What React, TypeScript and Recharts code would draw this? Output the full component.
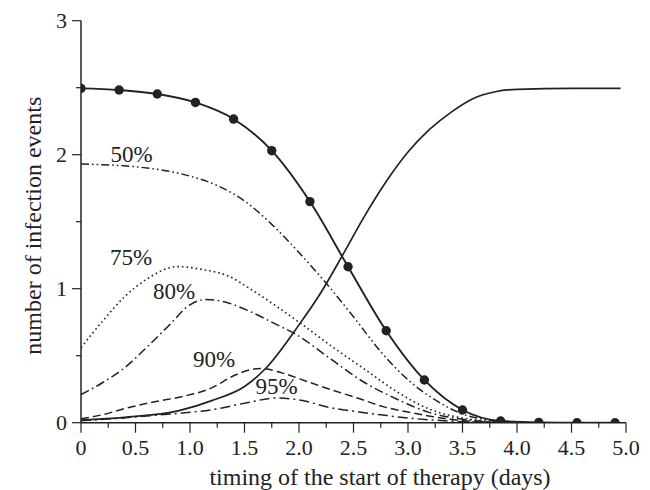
import React from 'react'
import { LineChart, Line, XAxis, YAxis, ReferenceDot } from 'recharts'

// solid curve with markers
const dotX = [0, 0.35, 0.7, 1.05, 1.4, 1.75, 2.1, 2.45, 2.8, 3.15, 3.5, 3.85, 4.2, 4.55, 4.9]
const dotY = [2.495, 2.483, 2.453, 2.39, 2.266, 2.03, 1.65, 1.164, 0.686, 0.319, 0.095, 0.013, 0.002, 0, 0]

// rising solid curve
const riseX = [0, 0.4, 0.9, 1.2, 1.5, 1.7, 2.0, 2.2, 2.4, 2.6, 2.8, 3.0, 3.2, 3.4, 3.6, 3.8, 4.0, 4.5, 4.95]
const riseY = [0.02, 0.04, 0.09, 0.165, 0.27, 0.41, 0.73, 0.97, 1.25, 1.54, 1.8, 2.02, 2.19, 2.32, 2.42, 2.47, 2.488, 2.495, 2.495]

const eff50X = [0, 0.5, 1.0, 1.25, 1.5, 1.75, 2.0, 2.25, 2.5, 2.75, 3.0, 3.25, 3.5, 3.75, 4.0]
const eff50Y = [1.93, 1.91, 1.84, 1.77, 1.655, 1.48, 1.27, 1.04, 0.79, 0.53, 0.32, 0.17, 0.065, 0.02, 0.003]

const eff75X = [0, 0.2, 0.4, 0.6, 0.89, 1.1, 1.35, 1.55, 1.8, 2.0, 2.3, 2.6, 2.9, 3.2, 3.5, 3.8, 4.0]
const eff75Y = [0.56, 0.76, 0.94, 1.07, 1.165, 1.145, 1.095, 1.0, 0.865, 0.75, 0.57, 0.4, 0.23, 0.1, 0.035, 0.008, 0]

const eff80X = [0, 0.2, 0.4, 0.6, 0.8, 1.0, 1.15, 1.3, 1.55, 1.8, 1.95, 2.3, 2.6, 2.9, 3.2, 3.5, 3.8, 4.0]
const eff80Y = [0.21, 0.3, 0.41, 0.56, 0.72, 0.88, 0.92, 0.905, 0.83, 0.73, 0.67, 0.47, 0.3, 0.175, 0.075, 0.025, 0.005, 0]

const eff90X = [0, 0.2, 0.4, 0.7, 0.9, 1.2, 1.4, 1.55, 1.65, 1.85, 2.1, 2.3, 2.55, 2.77, 3.0, 3.23, 3.5, 3.8, 4.0]
const eff90Y = [0.03, 0.06, 0.105, 0.16, 0.19, 0.26, 0.35, 0.395, 0.405, 0.37, 0.3, 0.245, 0.18, 0.12, 0.08, 0.045, 0.015, 0.003, 0]

const eff95X = [0, 0.3, 0.6, 0.9, 1.2, 1.5, 1.8, 2.0, 2.3, 2.55, 2.77, 3.0, 3.23, 3.5, 4.0]
const eff95Y = [0.015, 0.03, 0.05, 0.07, 0.097, 0.145, 0.185, 0.17, 0.11, 0.08, 0.057, 0.035, 0.02, 0.008, 0]

const xTicks = [0, 0.25, 0.5, 0.75, 1, 1.25, 1.5, 1.75, 2, 2.25, 2.5, 2.75, 3, 3.25, 3.5, 3.75, 4, 4.25, 4.5, 4.75, 5]
const yTicks = [0, 0.5, 1, 1.5, 2, 2.5, 3]

const curveLabels = ['50%', '75%', '80%', '90%', '95%']
const curveLabelX = [0.463, 0.459, 0.853, 1.22, 1.795]
const curveLabelY = [2.005, 1.237, 0.987, 0.477, 0.274]

const toPoints = (xs: number[], ys: number[]) => xs.map((x, i) => ({ x, y: ys[i] }))

const INK = '#222'
const FONT = "'Liberation Serif', 'Times New Roman', serif"

const XTick = ({ x, y, payload }: any) => {
  const v = payload.value
  const major = Math.abs(v * 2 - Math.round(v * 2)) < 1e-6
  return (
    <g>
      <line x1={x} x2={x} y1={y} y2={y + (major ? 10 : 5)} stroke={INK} strokeWidth={1.2} />
      {major && (
        <text x={x} y={y + 32} textAnchor="middle" fontSize={22} fontFamily={FONT} fill={INK}>
          {v === 0 ? '0' : v.toFixed(1)}
        </text>
      )}
    </g>
  )
}

const YTick = ({ x, y, payload }: any) => {
  const v = payload.value
  const major = Number.isInteger(v)
  return (
    <g>
      <line x1={x} x2={x - (major ? 9 : 5)} y1={y} y2={y} stroke={INK} strokeWidth={1.2} />
      {major && (
        <text x={x - 14} y={y} dy="0.34em" textAnchor="end" fontSize={22} fontFamily={FONT} fill={INK}>
          {v}
        </text>
      )}
    </g>
  )
}

const XTitle = ({ viewBox }: any) => (
  <text x={viewBox.x + 299} y={viewBox.y + 62} textAnchor="middle" fontSize={24} fontFamily={FONT} fill={INK}>
    timing of the start of therapy (days)
  </text>
)

const YTitle = ({ viewBox }: any) => {
  const cx = viewBox.x + 25
  const cy = viewBox.y + viewBox.height / 2 + 4
  return (
    <text x={cx} y={cy} transform={`rotate(-90 ${cx} ${cy})`} textAnchor="middle" dominantBaseline="central"
      fontSize={24} fontFamily={FONT} fill={INK}>
      number of infection events
    </text>
  )
}

const App = () => {
  const lineProps = { type: 'monotone' as const, dataKey: 'y', stroke: INK, dot: false, isAnimationActive: false }
  return (
    <LineChart width={642} height={482} margin={{ top: 12.7, right: 24, left: 0, bottom: 0 }}>
      <XAxis type="number" dataKey="x" domain={[0, 5]} ticks={xTicks} interval={0} tick={<XTick />}
        tickLine={false} tickSize={0} tickMargin={0} height={67.3} allowDataOverflow
        axisLine={{ stroke: INK, strokeWidth: 1.5 }} label={{ content: <XTitle /> }} />
      <YAxis type="number" domain={[0, 3]} ticks={yTicks} interval={0} tick={<YTick />}
        tickLine={false} tickSize={0} tickMargin={0} width={73} allowDataOverflow
        axisLine={{ stroke: INK, strokeWidth: 1.5 }} label={{ content: <YTitle /> }} />
      <Line {...lineProps} data={toPoints(eff95X, eff95Y)} strokeWidth={1.5} strokeDasharray="10 4 2 4" />
      <Line {...lineProps} data={toPoints(eff90X, eff90Y)} strokeWidth={1.5} strokeDasharray="8 4" />
      <Line {...lineProps} data={toPoints(eff80X, eff80Y)} strokeWidth={1.5} strokeDasharray="9 3.5 1.6 3.5" />
      <Line {...lineProps} data={toPoints(eff75X, eff75Y)} strokeWidth={1.6} strokeDasharray="1.6 3" />
      <Line {...lineProps} data={toPoints(eff50X, eff50Y)} strokeWidth={1.5} strokeDasharray="8 3 1.6 3 1.6 3" />
      <Line {...lineProps} data={toPoints(riseX, riseY)} strokeWidth={1.7} />
      <Line {...lineProps} data={toPoints(dotX, dotY)} strokeWidth={1.9}
        dot={{ r: 4.7, fill: INK, stroke: 'none' }} />
      {curveLabels.map((t, i) => (
        <ReferenceDot key={t} x={curveLabelX[i]} y={curveLabelY[i]} r={0} fill="none" stroke="none"
          label={{ value: t, position: 'center', fontSize: 23, fontFamily: FONT, fill: INK }} />
      ))}
    </LineChart>
  )
}

export default App
